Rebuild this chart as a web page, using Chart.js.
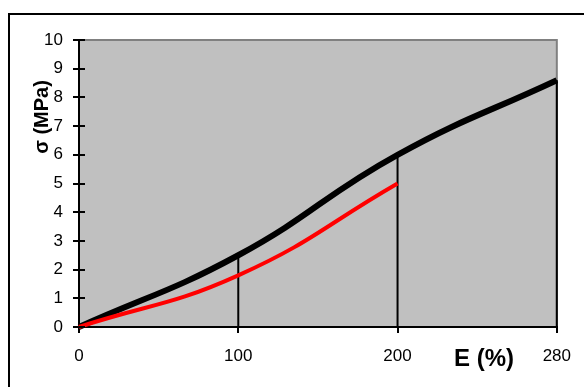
<!DOCTYPE html>
<html>
<head>
<meta charset="utf-8">
<script src="https://cdn.jsdelivr.net/npm/chart.js@4.4.1/dist/chart.umd.min.js"></script>
<style>
html,body{margin:0;padding:0;background:#fff;}
#wrap{width:584px;height:387px;position:relative;}
</style>
</head>
<body>
<div id="wrap"><canvas id="c" width="584" height="387"></canvas></div>
<script>
// ---- data ----
const categories = ['0', '100', '200', '280'];
const blackValues = [0, 2.5, 6.0, 8.6];
const redValues = [0, 1.8, 5.0];
const dropCategories = ['100', '200', '280'];
const yTicks = [0,1,2,3,4,5,6,7,8,9,10];
const xTitle = 'E (%)';
const yTitle = 'σ (MPa)';

const FONT = '"Liberation Sans", Arial, sans-serif';

function toPoints(vals){ return vals.map((v,i)=>({x:i, y:v})); }

const dropSets = dropCategories.map(c => {
  const i = categories.indexOf(c);
  return {
    data: [{x:i, y:0}, {x:i, y:blackValues[i]}],
    borderColor: '#000', borderWidth: 2, pointRadius: 0, tension: 0, clip: false
  };
});

const decor = {
  id: 'decor',
  beforeDraw(chart){
    const ctx = chart.ctx, a = chart.chartArea;
    ctx.save();
    ctx.fillStyle = '#fff';
    ctx.fillRect(0,0,chart.width,chart.height);
    // outer frame
    ctx.strokeStyle = '#000'; ctx.lineWidth = 2;
    ctx.beginPath(); ctx.moveTo(9, chart.height+2); ctx.lineTo(9, 14); ctx.lineTo(chart.width+2, 14); ctx.stroke();
    // plot background
    ctx.fillStyle = '#C0C0C0';
    ctx.fillRect(a.left, a.top, a.right - a.left, a.bottom - a.top);
    // gray top & right border
    ctx.strokeStyle = '#808080'; ctx.lineWidth = 2;
    ctx.beginPath(); ctx.moveTo(a.left, a.top); ctx.lineTo(a.right, a.top); ctx.lineTo(a.right, a.bottom); ctx.stroke();
    ctx.restore();
  },
  afterDraw(chart){
    const ctx = chart.ctx, a = chart.chartArea, ys = chart.scales.y;
    ctx.save();
    // inner part of y ticks
    ctx.strokeStyle = '#000'; ctx.lineWidth = 2;
    yTicks.forEach(v => {
      const py = Math.round(ys.getPixelForValue(v));
      ctx.beginPath(); ctx.moveTo(a.left, py); ctx.lineTo(a.left + 6, py); ctx.stroke();
    });
    // titles
    ctx.fillStyle = '#000';
    ctx.textAlign = 'center'; ctx.textBaseline = 'alphabetic';
    ctx.font = 'bold 24px ' + FONT;
    ctx.fillText(xTitle, 484, 366);
    ctx.translate(48, 117);
    ctx.rotate(-Math.PI/2);
    ctx.font = 'bold 20px ' + FONT;
    ctx.fillText(yTitle, 0, 0);
    ctx.restore();
  }
};

new Chart(document.getElementById('c'), {
  type: 'line',
  data: {
    datasets: [
      { data: toPoints(redValues), borderColor: '#FF0000', borderWidth: 4, pointRadius: 0, tension: 0.45, clip: false },
      { data: toPoints(blackValues), borderColor: '#000', borderWidth: 6, pointRadius: 0, tension: 0.45, clip: false },
      ...dropSets
    ]
  },
  options: {
    responsive: false,
    animation: false,
    events: [],
    layout: { padding: { top: 40, right: 24, left: 0, bottom: 0 } },
    plugins: { legend: { display: false }, tooltip: { enabled: false } },
    scales: {
      x: {
        type: 'linear', min: 0, max: categories.length - 1,
        afterFit(s){ s.height = 60; },
        afterBuildTicks(s){ s.ticks = categories.map((c,i)=>({value:i})); },
        ticks: { callback: (v) => categories[v], font: { family: FONT, size: 17 }, color: '#000', padding: 13, maxRotation: 0, autoSkip: false },
        grid: { drawOnChartArea: false, drawTicks: true, tickLength: 6, color: '#000', lineWidth: 2 },
        border: { display: true, color: '#000', width: 2 }
      },
      y: {
        min: 0, max: 10,
        afterFit(s){ s.width = 79; },
        afterBuildTicks(s){ s.ticks = yTicks.map(v=>({value:v})); },
        ticks: { font: { family: FONT, size: 17 }, color: '#000', padding: 10 },
        grid: { drawOnChartArea: false, drawTicks: true, tickLength: 6, color: '#000', lineWidth: 2 },
        border: { display: true, color: '#000', width: 2 }
      }
    }
  },
  plugins: [decor]
});
</script>
</body>
</html>
